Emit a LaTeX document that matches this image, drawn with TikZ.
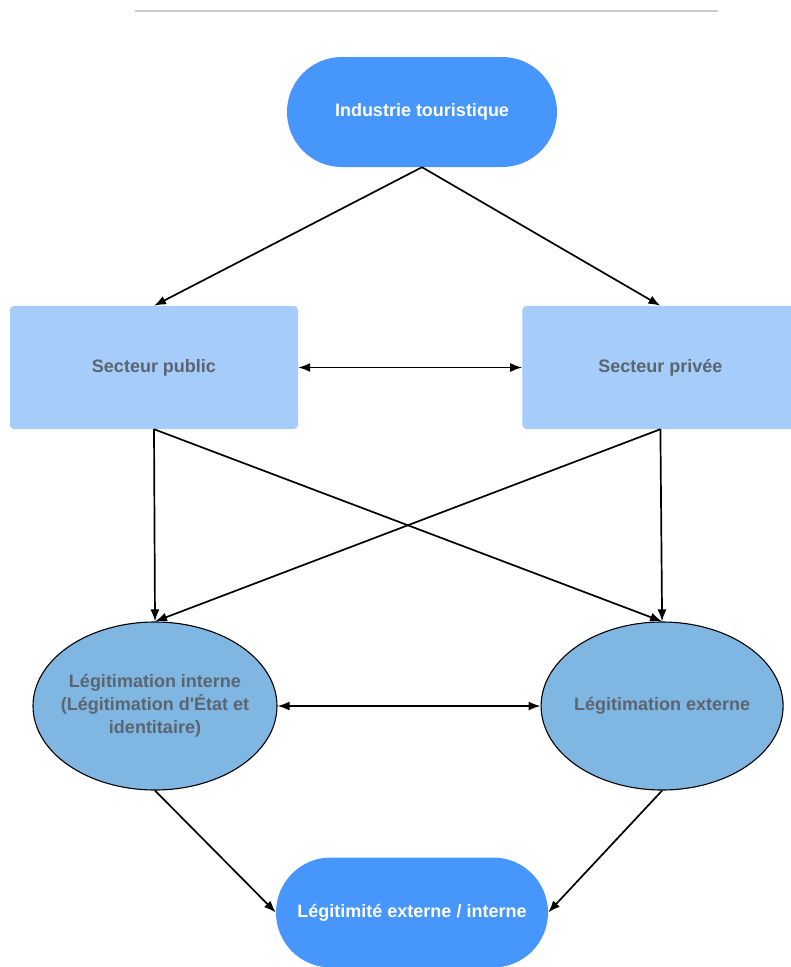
\documentclass[tikz,border=0pt]{standalone}
\usepackage{fontspec}
\setmainfont{Liberation Sans}
\usepackage{tikz}
\usetikzlibrary{positioning,shapes.geometric,arrows.meta}
\definecolor{StadiumBlue}{HTML}{4796FC}
\definecolor{SectorBlue}{HTML}{A6CCFA}
\definecolor{LegitBlue}{HTML}{80B6E2}
\definecolor{LabelGray}{HTML}{5B6570}

\begin{document}
\begin{tikzpicture}[
    x=1pt, y=-1pt,
    >={Latex[length=12pt,width=9pt]},
    every edge/.style={->, draw, line width=1.7pt},
    every node/.style={font=\bfseries\fontsize{18}{23}\selectfont, align=center, inner sep=0pt},
    stadium/.style={fill=StadiumBlue, text=white, rounded corners=54.9pt, minimum height=110pt},
    sector/.style={fill=SectorBlue, text=LabelGray, rounded corners=4pt, minimum height=123pt},
    legit/.style={ellipse, draw=black, line width=1.1pt, fill=LegitBlue, text=LabelGray, inner xsep=-12pt, minimum width=244pt, minimum height=168pt}]

    \useasboundingbox (0,0) rectangle (791,967);
    \draw[black!20, line width=2pt] (135,11) -- (718,11);

    \node[stadium, minimum width=270pt] (ind) at (422,112) {Industrie touristique};
    \node[sector, minimum width=288pt] (spub) at (154,367.5) {Secteur public};
    \node[sector, minimum width=276pt, right=224pt of spub] (spriv) {Secteur privée};
    \node[legit] (lint) at (155,706) {Légitimation interne\\(Légitimation d\textquotesingle État et\\identitaire)};
    \node[legit, minimum width=242pt, right=263pt of lint] (lext) {Légitimation externe};
    \node[stadium, minimum width=272pt] (res) at (412,912.5) {Légitimité externe / interne};

    \draw (ind.south) edge (spub.north) edge (spriv.north);
    \draw (spub) edge[<->] (spriv);
    \draw (spub.south) edge (lint.north) edge (lext.north);
    \draw (spriv.south) edge (lext.north) edge (lint.north);
    \draw (lint) edge[<->] (lext);
    \draw (lint.south) edge (res.west);
    \draw (lext.south) edge (res.east);

\end{tikzpicture}
\end{document}
